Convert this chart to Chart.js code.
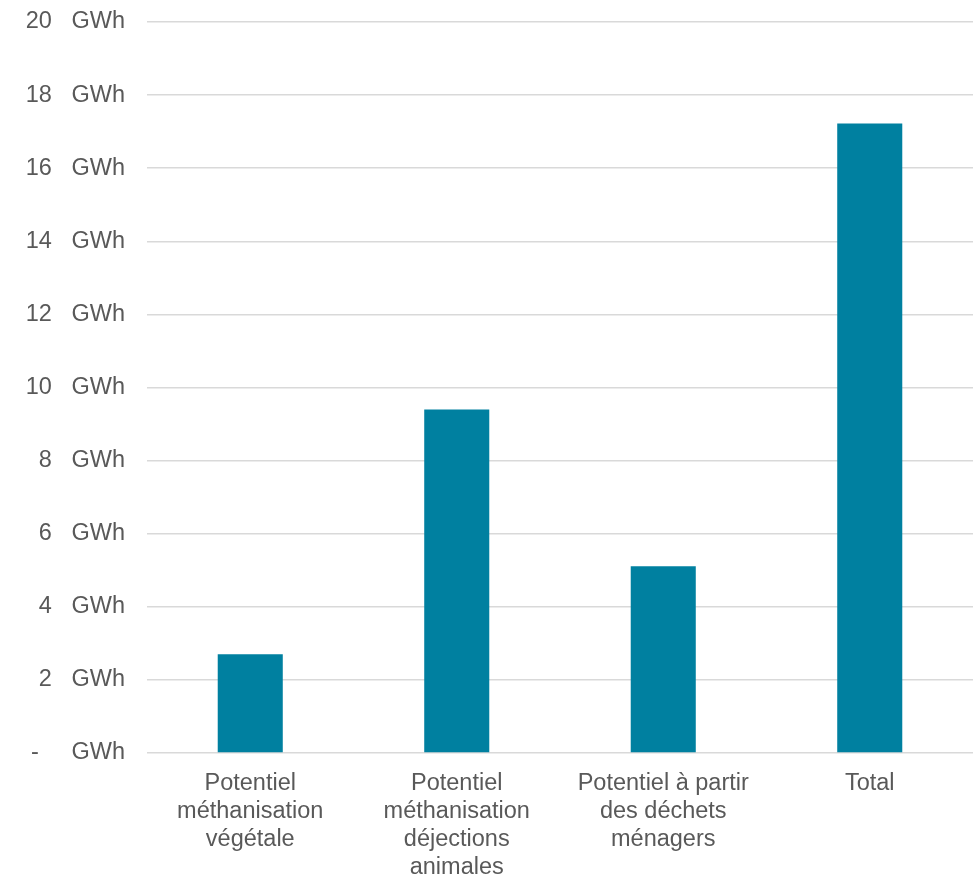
<!DOCTYPE html>
<html>
<head>
<meta charset="utf-8">
<script src="https://cdn.jsdelivr.net/npm/chart.js@4"></script>
<style>
  html, body { margin: 0; padding: 0; background: #fff; }
  #wrap { width: 979px; height: 875px; }
</style>
</head>
<body>
<div id="wrap"><canvas id="potentiel"></canvas></div>
<script>
// categories (one line per array item)
var categories = [
    ["Potentiel", "méthanisation", "végétale"],
    ["Potentiel", "méthanisation", "déjections", "animales"],
    ["Potentiel à partir", "des déchets", "ménagers"],
    ["Total"]
];
// values in GWh
var valuesGWh = [2.7, 9.4, 5.11, 17.22];
var yMax = 20;
var yStep = 2;
var unit = "GWh";

function tickLabel(v){
    if (v == 0){
        return "-     " + unit;
    }
    return v + "   " + unit;
}

var textColor = "#595959";
var fontFamily = "'Liberation Sans', Arial, sans-serif";

new Chart("potentiel", {
    type: "bar",
    data: {
        labels: categories,
        datasets: [{
            data: valuesGWh,
            backgroundColor: "#0080A0",
            barPercentage: 0.315,
            categoryPercentage: 1
        }]
    },
    options: {
        responsive: true,
        maintainAspectRatio: false,
        animation: false,
        layout: {padding: {top: 0, right: 6, left: 0, bottom: 0}},
        plugins: {
            legend: {display: false},
            tooltip: {enabled: false}
        },
        scales: {
            x: {
                grid: {display: false, drawTicks: false},
                border: {display: false},
                ticks: {
                    color: textColor,
                    font: {family: fontFamily, size: 23.5, lineHeight: 1.18},
                    padding: 17,
                    autoSkip: false,
                    maxRotation: 0
                },
                afterFit: function(scale){ scale.height = 122; }
            },
            y: {
                min: 0,
                max: yMax,
                grid: {color: "#D9D9D9", lineWidth: 1.5, drawTicks: false},
                border: {display: false},
                ticks: {
                    stepSize: yStep,
                    color: textColor,
                    font: {family: fontFamily, size: 23.5, lineHeight: 1.2},
                    padding: 22,
                    callback: function(v){ return tickLabel(v); }
                },
                afterFit: function(scale){
                    scale.width = 147;
                    scale.paddingTop = 22;
                }
            }
        }
    }
});
</script>
</body>
</html>
